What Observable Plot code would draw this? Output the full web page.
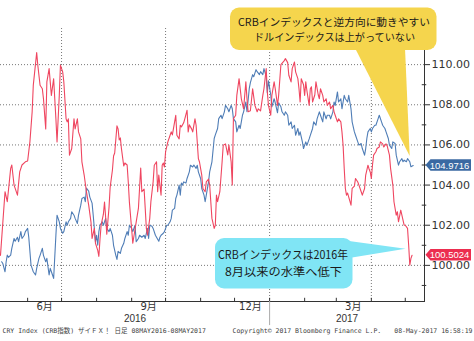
<!DOCTYPE html>
<html><head><meta charset="utf-8">
<script src="https://cdn.jsdelivr.net/npm/d3@7"></script>
<script src="https://cdn.jsdelivr.net/npm/@observablehq/plot@0.6"></script>
<style>body{margin:0;background:#fff}svg{display:block}</style>
</head><body><div id="chart"></div>
<script>
// ---- data (days since start date, values on the right axis) ----
const startDate = "2016-05-08";
const crbDay = [0,4,6,9,10,12,15,17,19,22,24,26,28,29,32,33,35,37,38,40,41,43,45,47,49,50,52,53,55,56,58,59,60,61,63,65,66,68,69,71,72,74,76,78,80,81,83,84,86,87,88,89,91,92,93,94,96,97,99,100,101,103,104,105,106,107,109,110,112,113,114,116,117,119,120,122,123,124,125,127,128,129,130,132,133,135,136,138,139,140,142,143,144,145,146,148,150,151,152,154,155,156,158,159,160,162,163,165,166,167,169,170,172,173,175,176,178,179,181,182,184,185,187,189,190,191,192,194,196,197,199,201,202,204,205,206,208,209,211,213,215,217,218,219,221,223,225,227,228,230,232,233,235,236,237,239,240,242,243,245,246,248,251,252,254,255,257,258,260,261,263,264,265,266,268,269,270,271,273,274,275,276,278,279,281,282,283,285,286,288,289,291,292,294,295,296,298,299,301,302,303,304,305,306,307,309,310,311,313,314,316,317,319,320,322,323,325,326,327,328,329,330,332,333,335,336,338,339,341,342,344,345,347,348,350,351,352,354,355,357,358,360,361,362,363,364];
const crbValue = [100.5,103.67,103.17,104.83,105.0,104.0,103.5,104.66,105.0,105.16,105.2,106.15,107.65,108.97,110.6,109.97,108.97,108.8,108.3,106.8,109.14,109.8,108.47,109.3,107.3,106.15,108.47,109.97,109.64,109.14,107.3,107.15,107.3,105.49,105.82,107.3,106.8,107.3,106.65,106.3,105.16,104.5,103.67,103.0,102.17,101.34,101.84,101.1,100.75,100.45,101.3,102.0,102.55,103.15,102.4,101.55,102.9,103.9,104.75,105.45,105.6,106.95,106.8,106.25,106.35,105.8,104.95,105.1,105.0,104.15,103.15,101.8,101.1,101.8,102.15,102.85,103.85,104.85,103.67,103.8,102.84,101.84,101.5,102.34,103.17,104.16,104.99,105.16,103.67,104.5,103.5,104.99,105.1,104.9,105.66,106.15,106.48,106.65,106.5,107.15,107.48,106.48,106.3,106.98,106.9,107.1,107.3,107.73,106.65,107.0,106.8,106.65,107.3,106.98,105.32,105.15,104.5,103.83,103.67,104.16,104.3,104.0,102.34,101.84,102.0,103.5,103.17,103.67,105.16,105.99,106.05,105.5,106.0,105.16,104.0,107.3,107.48,108.47,109.3,108.3,107.8,109.14,108.3,107.65,107.7,108.8,107.97,107.65,107.8,107.7,108.47,108.8,109.8,108.64,107.97,107.48,108.47,109.14,108.8,107.97,108.47,110.0,110.2,110.3,110.1,109.47,109.14,109.8,110.13,109.64,109.3,108.8,108.14,109.3,109.0,108.47,109.14,108.7,107.97,108.8,108.9,108.14,108.5,109.14,108.5,108.3,108.8,108.47,108.14,108.3,107.97,108.14,107.8,107.97,107.65,107.48,107.15,107.3,107.15,106.65,105.99,104.83,103.83,103.5,103.6,103.2,103.0,103.83,103.95,104.33,104.15,104.0,103.67,103.5,103.83,104.5,104.99,104.8,104.65,104.33,105.0,105.49,105.66,105.82,105.9,106.15,106.05,105.9,106.05,105.95,105.49,104.83,104.0,103.17,102.5,102.67,102.17,102.75,102.5,102.0,102.0,101.84,101.0,100.01,100.35,100.5024];
const dxyDay = [1,2,4,5,6,7,9,10,12,13,15,16,18,19,21,22,24,25,27,28,29,31,32,34,35,37,38,40,41,43,44,46,47,49,50,52,53,55,56,58,59,60,62,63,65,66,68,69,71,72,74,75,76,78,79,81,82,83,84,85,86,87,88,90,91,93,94,96,97,99,100,102,103,104,106,107,109,110,112,113,114,116,117,119,120,122,123,125,127,128,130,131,132,134,135,137,138,140,141,142,144,145,147,148,150,151,152,154,155,156,158,159,160,161,162,164,165,167,168,170,171,173,174,175,177,178,180,181,182,184,185,187,189,190,192,193,195,196,198,199,201,202,204,205,206,208,209,211,212,214,215,217,218,220,221,223,224,226,227,229,230,232,233,235,236,237,239,240,242,243,245,246,248,249,251,252,254,255,257,258,260,261,263,264,265,267,268,270,271,273,274,276,277,279,280,282,283,285,286,288,289,291,292,294,295,296,298,299,301,302,304,305,307,308,310,311,313,314,316,317,319,320,322,323,324,325,327,328,329,331,332,334,335,337,338,340,341,343,344,346,347,349,350,352,353,355,356,357,359,360,362,363,365];
const dxyValue = [100.18,100.1,99.68,100.18,100.51,100.4,100.51,100.85,101.34,101.2,101.4,101.18,101.68,101.34,101.5,101.68,101.84,101.4,100.01,99.85,99.68,99.52,99.85,100.35,100.5,100.85,100.5,100.18,100.35,99.52,99.85,99.52,99.35,101.5,102.5,102.17,101.84,101.6,101.68,102.17,102.0,102.17,102.34,102.67,102.5,102.34,102.09,102.5,103.0,103.33,103.4,103.17,103.85,103.7,103.4,103.1,102.5,101.84,101.18,101.5,101.0,101.68,102.0,102.17,102.0,102.34,101.84,101.68,101.84,101.5,101.0,100.5,100.3,100.7,100.6,100.85,101.1,101.34,101.68,101.5,102.0,101.84,101.68,102.0,101.18,101.34,101.5,101.4,101.5,101.34,101.84,101.34,102.0,101.95,101.84,101.5,101.4,101.2,101.4,101.5,101.6,101.68,102.0,102.0,102.17,102.34,102.75,102.84,103.33,103.5,104.0,103.5,104.1,104.0,104.16,104.1,104.33,104.66,104.99,104.9,105.0,104.83,104.99,104.66,104.33,103.83,103.5,103.17,103.5,104.16,104.66,105.16,106.32,106.5,106.82,107.31,107.48,107.31,107.65,107.97,107.8,107.65,107.97,107.8,107.31,107.15,106.65,106.98,106.82,107.48,107.65,108.14,107.65,108.8,109.1,109.5,109.4,109.75,109.65,109.5,109.65,109.5,109.8,109.4,108.6,109.2,108.5,107.9,108.3,108.1,107.6,108.1,107.9,107.65,107.48,107.65,107.48,106.98,107.15,106.82,106.98,106.48,106.82,106.48,106.65,106.15,105.82,106.15,105.98,106.3,106.48,106.82,107.15,106.98,107.3,107.65,107.48,107.15,107.65,107.3,107.48,107.48,107.3,107.65,108.14,107.97,108.64,108.14,108.3,107.8,108.47,108.3,108.14,108.47,107.8,107.15,106.65,106.48,106.15,105.99,106.07,105.82,105.49,105.82,106.32,106.65,106.82,106.65,106.82,106.98,106.98,107.31,107.48,107.15,106.98,106.82,106.65,106.32,105.99,105.82,106.15,106.07,105.49,104.99,105.16,105.32,105.16,105.24,105.16,105.32,105.16,104.91,104.9716];

const xDomainDates = ["2016-05-08", "2017-05-18"];
const yTicks = [100, 102, 104, 106, 108, 110];
const yMinorTicks = [99, 101, 103, 105, 107, 109, 111];
const gridDates = ["2016-07-01", "2016-10-01", "2017-01-01", "2017-04-01"];
const monthStarts = ["2016-06-01","2016-07-01","2016-08-01","2016-09-01","2016-10-01","2016-11-01","2016-12-01","2017-01-01","2017-02-01","2017-03-01","2017-04-01","2017-05-01"];
const monthLabels = ["6月", "9月", "12月", "3月"];
const monthLabelDates = ["2016-06-16", "2016-09-16", "2016-12-15", "2017-03-16"];
const yearLabels = ["2016", "2017"];
const yearBoundary = "2017-01-01";
const tagTexts = ["104.9716", "100.5024"];
const noteDxy = ["CRBインデックスと逆方向に動きやすい", "ドルインデックスは上がっていない"];
const noteCrb = ["CRBインデックスは2016年", "8月以来の水準へ低下"];
const footer = ["CRY Index (CRB指数) ザイＦＸ！ 日足 08MAY2016-08MAY2017", "Copyright© 2017 Bloomberg Finance L.P.", "08-May-2017 16:58:19"];

// ---- build ----
const RED = "#ef4660", BLUE = "#4f7db6", TAG_RED = "#ec2d4f", TAG_BLUE = "#3a69a2";
const parse = d3.utcParse("%Y-%m-%d");
const start = parse(startDate);
const toDate = d => d3.utcDay.offset(start, d);
const crb = crbDay.map((d, i) => ({date: toDate(d), value: crbValue[i]}));
const dxy = dxyDay.map((d, i) => ({date: toDate(d), value: dxyValue[i]}));
const xDomain = xDomainDates.map(parse);
const yDomain = [98.2, 111.8];
const yb = parse(yearBoundary);
const yearMid = [new Date((xDomain[0].getTime() + yb.getTime()) / 2), new Date((yb.getTime() + xDomain[1].getTime()) / 2)];

function annotate(index, scales, values, dims) {
  const {x, y} = scales;
  const g = d3.create("svg:g");
  const right = dims.width - dims.marginRight;
  // yellow callout (points at the dollar index end)
  const dl = dxy[dxy.length - 1];
  const tipY = [x(dl.date) - 3, y(dl.value) - 9];
  g.append("polygon").attr("points", [[355, 48], [405, 48], tipY].map(p => p.join(",")).join(" ")).attr("fill", "#f5d54d");
  g.append("rect").attr("x", 230).attr("y", 7.5).attr("width", 206.5).attr("height", 42.5).attr("rx", 9).attr("fill", "#f5d54d");
  const yl = [[334, 21.5, 192], [334.5, 36.5, 161]];
  noteDxy.forEach((t, i) => g.append("text").attr("x", yl[i][0]).attr("y", yl[i][1])
    .attr("text-anchor", "middle").attr("dominant-baseline", "central")
    .attr("textLength", yl[i][2]).attr("lengthAdjust", "spacingAndGlyphs")
    .attr("font-family", "Noto Sans CJK JP").attr("font-size", 10.5).attr("fill", "#1a1a1a").text(t));
  // cyan callout (points at the CRB end)
  const cl = crb[crb.length - 1];
  const tipC = [x(cl.date) - 6, y(cl.value) - 6];
  g.append("polygon").attr("points", [[349, 241], [349, 258], tipC].map(p => p.join(",")).join(" ")).attr("fill", "#80e5f5");
  g.append("rect").attr("x", 215).attr("y", 238).attr("width", 137.5).attr("height", 50.5).attr("rx", 9).attr("fill", "#80e5f5");
  const cl2 = [[283, 254, 130], [283.5, 271, 117]];
  noteCrb.forEach((t, i) => g.append("text").attr("x", cl2[i][0]).attr("y", cl2[i][1])
    .attr("text-anchor", "middle").attr("dominant-baseline", "central")
    .attr("textLength", cl2[i][2]).attr("lengthAdjust", "spacingAndGlyphs")
    .attr("font-family", "Noto Sans CJK JP").attr("font-size", 11.5).attr("fill", "#1a1a1a").text(t));
  // last-value tags
  [[dl.value, tagTexts[0], TAG_BLUE], [cl.value, tagTexts[1], TAG_RED]].forEach(([v, t, c]) => {
    const cy = y(v), h = 5.8, ax = right + 1.5;
    g.append("path").attr("d", `M${ax},${cy}L${ax + 5},${cy - h}H471V${cy + h}H${ax + 5}Z`).attr("fill", c);
    g.append("text").attr("x", 449.5).attr("y", cy).attr("text-anchor", "middle").attr("dominant-baseline", "central")
      .attr("font-family", "Liberation Sans").attr("font-size", 9.5)
      .attr("fill", "#fff").text(t);
  });
  return g.node();
}

const chart = Plot.plot({
  width: 474, height: 341,
  marginTop: 28, marginRight: 50, marginBottom: 40, marginLeft: 0,
  style: {fontFamily: "DejaVu Sans, Noto Sans CJK JP, sans-serif", fontSize: "11px", color: "#333", background: "#fff", overflow: "visible"},
  x: {type: "utc", domain: xDomain, axis: null},
  y: {domain: yDomain, axis: "right", ticks: yTicks, tickFormat: d => d.toFixed(2), tickSize: 5, tickPadding: 2, label: null, line: true},
  marks: [
    Plot.ruleY(yTicks, {stroke: "#777", strokeDasharray: "1,2", strokeWidth: 1}),
    Plot.ruleX(gridDates.map(parse), {stroke: "#777", strokeDasharray: "1,2", strokeWidth: 1}),
    Plot.ruleY(yMinorTicks, {x1: () => d3.utcDay.offset(xDomain[1], -2), x2: () => d3.utcDay.offset(xDomain[1], 2), stroke: "#333"}),
    Plot.ruleY([yDomain[0]], {stroke: "#333"}),
    Plot.ruleX(monthStarts.map(parse), {y1: yDomain[0], y2: yDomain[0] + 0.16, stroke: "#333"}),
    Plot.ruleX([yb], {y1: yDomain[0], y2: yDomain[0] - 1.2, stroke: "#aaa"}),
    Plot.line(dxy, {x: "date", y: "value", stroke: BLUE, strokeWidth: 1.1}),
    Plot.line(crb, {x: "date", y: "value", stroke: RED, strokeWidth: 1.1}),
    Plot.text(monthLabels, {x: (d, i) => parse(monthLabelDates[i]), frameAnchor: "bottom", dy: 8, text: d => d, fontSize: 10, fill: "#333"}),
    Plot.text(yearLabels, {x: (d, i) => yearMid[i], frameAnchor: "bottom", dy: 20.5, text: d => d, fontSize: 10, fontFamily: "Liberation Sans", fill: "#333"}),
    Plot.text([footer[0]], {frameAnchor: "bottom-left", dx: 2, dy: 31, text: d => d, textAnchor: "start", fontSize: 6.5, fontFamily: "DejaVu Sans Mono, Noto Sans CJK JP", fill: "#444"}),
    Plot.text([footer[1]], {frameAnchor: "bottom-left", dx: 232, dy: 31, text: d => d, textAnchor: "start", fontSize: 6.5, fontFamily: "DejaVu Sans Mono", fill: "#444"}),
    Plot.text([footer[2]], {frameAnchor: "bottom-right", dx: 48, dy: 31, text: d => d, textAnchor: "end", fontSize: 6.5, fontFamily: "DejaVu Sans Mono", fill: "#444"}),
    annotate
  ]
});
document.getElementById("chart").append(chart);
</script>
</body></html>
